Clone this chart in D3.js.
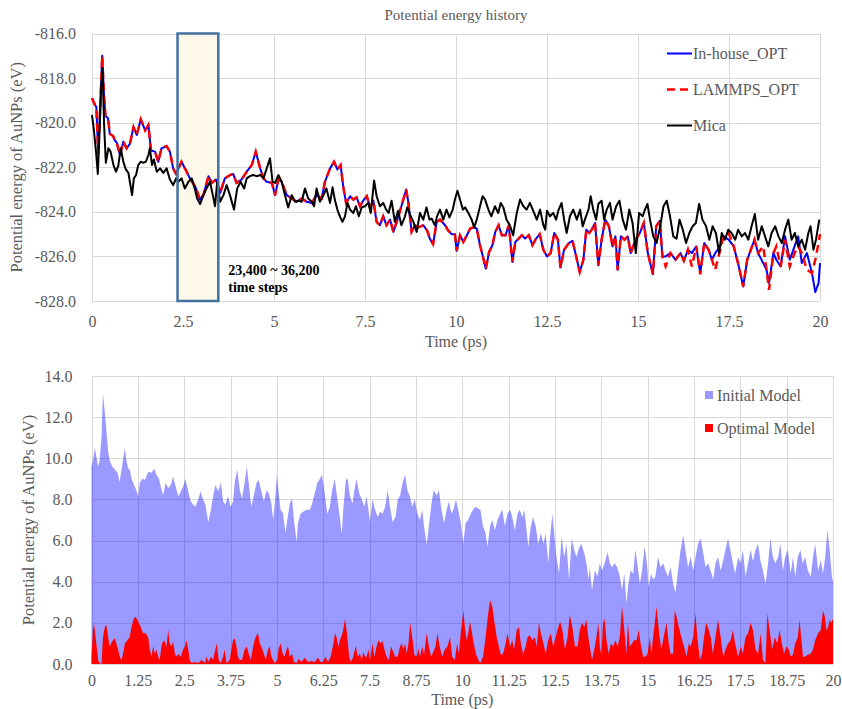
<!DOCTYPE html>
<html>
<head>
<meta charset="utf-8">
<script src="https://cdn.jsdelivr.net/npm/d3@7"></script>
<style>
  body { margin: 0; background: #fff; }
  svg { display: block; }
  text { font-family: "Liberation Serif", "Times New Roman", serif; }
</style>
</head>
<body>
<svg id="chart" width="842" height="709"></svg>
<script>
// ---- Potential energy history: [time (ps), energy (eV)] ----
const inHouseOpt = [[0,-818.9],[0.08,-819.2],[0.12,-819.3],[0.17,-821.4],[0.22,-819.5],[0.28,-817.0],[0.33,-818.8],[0.37,-819.7],[0.44,-819.8],[0.49,-820.5],[0.58,-820.6],[0.63,-820.8],[0.68,-820.9],[0.77,-821.45],[0.86,-820.85],[0.95,-821.15],[1.04,-820.95],[1.14,-820.2],[1.23,-820.55],[1.34,-819.85],[1.46,-820.35],[1.55,-820.1],[1.62,-821.25],[1.73,-821.3],[1.82,-821.75],[1.91,-821.15],[2.05,-821.05],[2.14,-821.3],[2.23,-822.05],[2.31,-822.3],[2.46,-821.75],[2.6,-822.2],[2.69,-822.5],[2.83,-822.85],[2.97,-823.45],[3.06,-823.25],[3.2,-822.4],[3.29,-822.7],[3.41,-822.55],[3.52,-823.15],[3.65,-822.5],[3.79,-822.35],[3.88,-822.3],[3.97,-822.7],[4.11,-822.55],[4.25,-822.2],[4.39,-821.9],[4.5,-821.3],[4.62,-822.05],[4.71,-822.5],[4.8,-822.65],[4.94,-822.7],[5.03,-823.25],[5.12,-822.55],[5.21,-822.65],[5.35,-823.25],[5.49,-823.4],[5.62,-823.55],[5.76,-823.4],[5.9,-823.55],[6.04,-823.6],[6.17,-823.25],[6.31,-823.4],[6.4,-822.65],[6.54,-822.05],[6.65,-821.75],[6.74,-822.1],[6.83,-821.9],[6.9,-822.85],[6.98,-823.6],[7.09,-823.3],[7.18,-823.45],[7.27,-823.35],[7.36,-823.75],[7.45,-823.5],[7.55,-823.3],[7.64,-823.8],[7.73,-823.5],[7.82,-824.45],[7.91,-824.6],[8.0,-824.2],[8.09,-824.6],[8.19,-824.35],[8.28,-824.9],[8.37,-824.45],[8.5,-823.75],[8.63,-823.0],[8.69,-823.55],[8.78,-824.9],[8.87,-824.6],[8.97,-824.7],[9.1,-824.6],[9.21,-824.85],[9.28,-825.2],[9.37,-825.45],[9.47,-824.45],[9.56,-824.35],[9.7,-824.6],[9.79,-824.85],[9.88,-825.0],[9.97,-825.0],[10.02,-825.75],[10.11,-825.05],[10.2,-825.35],[10.3,-825.05],[10.39,-824.75],[10.48,-824.7],[10.57,-824.75],[10.66,-825.5],[10.73,-825.95],[10.82,-826.55],[10.91,-825.8],[11.0,-825.5],[11.08,-824.9],[11.17,-824.6],[11.26,-825.05],[11.36,-825.05],[11.45,-824.6],[11.55,-826.25],[11.63,-825.35],[11.72,-825.2],[11.81,-825.05],[11.9,-825.2],[12.0,-825.05],[12.1,-825.5],[12.2,-825.2],[12.3,-825.0],[12.4,-825.7],[12.5,-826.0],[12.6,-825.85],[12.7,-824.95],[12.8,-825.25],[12.87,-826.5],[12.97,-825.7],[13.1,-825.4],[13.2,-825.3],[13.28,-825.85],[13.4,-826.7],[13.5,-826.15],[13.58,-824.8],[13.66,-824.95],[13.73,-824.8],[13.82,-824.5],[13.91,-826.4],[14.0,-825.25],[14.1,-824.35],[14.2,-824.65],[14.3,-825.55],[14.38,-825.1],[14.44,-826.6],[14.53,-825.1],[14.63,-825.25],[14.72,-825.1],[14.8,-825.85],[14.93,-825.25],[15.05,-824.95],[15.16,-824.5],[15.27,-825.85],[15.41,-826.8],[15.5,-824.65],[15.6,-824.4],[15.67,-826.0],[15.76,-826.0],[15.89,-825.85],[16.03,-826.15],[16.17,-825.85],[16.26,-826.2],[16.37,-825.7],[16.48,-825.85],[16.6,-825.55],[16.71,-826.75],[16.82,-825.4],[16.94,-825.7],[17.03,-826.15],[17.12,-825.85],[17.26,-825.55],[17.35,-825.1],[17.49,-825.25],[17.63,-825.55],[17.77,-826.45],[17.89,-827.35],[18.0,-826.15],[18.1,-825.7],[18.2,-825.25],[18.3,-825.85],[18.44,-826.3],[18.53,-826.6],[18.6,-827.2],[18.72,-825.85],[18.8,-826.15],[18.92,-826.45],[19.04,-825.1],[19.17,-826.15],[19.3,-825.55],[19.4,-825.1],[19.5,-826.3],[19.64,-825.85],[19.78,-826.75],[19.87,-827.6],[19.96,-827.2],[20,-826.3]];

const lammpsOpt = [[0,-818.9],[0.08,-819.2],[0.12,-819.3],[0.17,-821.4],[0.22,-819.5],[0.28,-817.0],[0.33,-818.8],[0.37,-819.7],[0.44,-819.8],[0.49,-820.5],[0.58,-820.6],[0.63,-820.8],[0.68,-820.9],[0.77,-821.45],[0.86,-820.85],[0.95,-821.15],[1.04,-820.95],[1.14,-820.2],[1.23,-820.55],[1.34,-819.85],[1.46,-820.35],[1.55,-820.1],[1.62,-821.25],[1.73,-821.3],[1.82,-821.75],[1.91,-821.15],[2.05,-821.05],[2.14,-821.3],[2.23,-822.05],[2.31,-822.3],[2.46,-821.75],[2.6,-822.2],[2.69,-822.5],[2.83,-822.85],[2.97,-823.45],[3.06,-823.25],[3.2,-822.4],[3.29,-822.7],[3.41,-822.55],[3.52,-823.15],[3.65,-822.5],[3.79,-822.35],[3.88,-822.3],[3.97,-822.7],[4.11,-822.55],[4.25,-822.2],[4.39,-821.9],[4.5,-821.3],[4.62,-822.05],[4.71,-822.5],[4.8,-822.65],[4.94,-822.7],[5.03,-823.25],[5.12,-822.55],[5.21,-822.65],[5.35,-823.25],[5.49,-823.4],[5.62,-823.55],[5.76,-823.4],[5.9,-823.55],[6.04,-823.6],[6.17,-823.25],[6.31,-823.4],[6.4,-822.65],[6.54,-822.05],[6.65,-821.75],[6.74,-822.1],[6.83,-821.9],[6.9,-822.85],[6.98,-823.6],[7.09,-823.3],[7.18,-823.45],[7.27,-823.35],[7.36,-823.75],[7.45,-823.5],[7.55,-823.3],[7.64,-823.8],[7.73,-823.5],[7.82,-824.45],[7.91,-824.6],[8.0,-824.2],[8.09,-824.6],[8.19,-824.35],[8.28,-824.9],[8.37,-824.45],[8.5,-823.75],[8.63,-823.0],[8.69,-823.55],[8.78,-824.9],[8.87,-824.6],[8.97,-824.7],[9.1,-824.6],[9.21,-824.85],[9.28,-825.2],[9.37,-825.45],[9.47,-824.45],[9.56,-824.35],[9.7,-824.6],[9.79,-824.85],[9.88,-825.0],[9.97,-825.0],[10.02,-825.75],[10.11,-825.05],[10.2,-825.35],[10.3,-825.05],[10.39,-824.75],[10.48,-824.7],[10.57,-824.75],[10.66,-825.5],[10.73,-825.95],[10.82,-826.55],[10.91,-825.8],[11.0,-825.5],[11.08,-824.9],[11.17,-824.6],[11.26,-825.05],[11.36,-825.05],[11.45,-824.6],[11.55,-826.25],[11.63,-825.35],[11.72,-825.2],[11.81,-825.05],[11.9,-825.2],[12.0,-825.05],[12.1,-825.5],[12.2,-825.2],[12.3,-825.0],[12.4,-825.7],[12.5,-826.0],[12.6,-825.85],[12.7,-824.95],[12.8,-825.25],[12.87,-826.5],[12.97,-825.7],[13.1,-825.4],[13.2,-825.3],[13.28,-825.85],[13.4,-826.7],[13.5,-826.15],[13.58,-824.8],[13.66,-824.95],[13.73,-824.8],[13.82,-824.5],[13.91,-826.4],[14.0,-825.25],[14.1,-824.35],[14.2,-824.65],[14.3,-825.55],[14.38,-825.1],[14.44,-826.6],[14.53,-825.1],[14.63,-825.25],[14.72,-825.1],[14.8,-825.85],[14.93,-825.25],[15.05,-824.95],[15.16,-824.5],[15.27,-825.85],[15.41,-826.8],[15.5,-824.65],[15.6,-824.4],[15.67,-826.0],[15.76,-826.45],[15.89,-825.85],[16.03,-826.15],[16.17,-825.85],[16.26,-826.2],[16.37,-825.7],[16.48,-826.45],[16.6,-825.55],[16.71,-826.8],[16.82,-825.4],[16.94,-825.7],[17.03,-826.15],[17.12,-826.6],[17.26,-825.7],[17.35,-825.1],[17.49,-824.95],[17.63,-825.55],[17.77,-826.45],[17.89,-827.35],[18.0,-826.15],[18.1,-825.7],[18.2,-825.25],[18.3,-825.85],[18.44,-825.55],[18.53,-826.6],[18.6,-827.5],[18.72,-825.85],[18.8,-825.55],[18.92,-826.45],[19.04,-825.25],[19.17,-826.45],[19.3,-825.85],[19.4,-825.55],[19.5,-825.85],[19.64,-826.6],[19.78,-826.75],[19.87,-826.15],[19.96,-825.4],[20,-825.0]];

const mica = [[0,-819.65],[0.05,-820.3],[0.11,-821.3],[0.16,-822.3],[0.2,-820.7],[0.25,-818.5],[0.29,-817.55],[0.33,-820.0],[0.38,-821.8],[0.45,-821.15],[0.51,-821.3],[0.59,-821.9],[0.66,-822.2],[0.72,-821.95],[0.79,-821.15],[0.86,-821.75],[0.93,-822.1],[1.0,-822.25],[1.04,-822.65],[1.1,-823.25],[1.15,-822.5],[1.21,-822.35],[1.27,-821.9],[1.34,-821.75],[1.41,-821.8],[1.48,-821.75],[1.55,-821.45],[1.59,-821.15],[1.65,-821.9],[1.7,-821.65],[1.78,-822.2],[1.87,-822.05],[1.96,-822.25],[2.05,-822.05],[2.14,-822.55],[2.23,-822.8],[2.31,-822.5],[2.37,-822.65],[2.46,-822.5],[2.55,-822.95],[2.65,-822.65],[2.74,-822.5],[2.83,-823.0],[2.89,-823.4],[2.97,-823.65],[3.06,-823.25],[3.15,-822.95],[3.24,-822.65],[3.32,-823.25],[3.38,-823.75],[3.44,-822.65],[3.52,-823.55],[3.61,-823.25],[3.7,-822.8],[3.79,-823.25],[3.9,-823.9],[3.99,-822.95],[4.08,-822.65],[4.18,-822.95],[4.25,-822.5],[4.34,-822.4],[4.43,-822.35],[4.52,-822.4],[4.63,-822.35],[4.71,-822.5],[4.8,-822.05],[4.89,-821.6],[4.96,-822.65],[5.03,-822.7],[5.12,-822.35],[5.21,-822.65],[5.3,-823.25],[5.39,-823.8],[5.49,-823.25],[5.58,-823.55],[5.67,-823.5],[5.76,-823.55],[5.85,-822.95],[5.94,-823.4],[6.04,-823.55],[6.1,-823.75],[6.17,-822.95],[6.26,-823.55],[6.36,-823.25],[6.44,-822.95],[6.54,-823.6],[6.61,-822.9],[6.67,-823.45],[6.74,-823.9],[6.81,-824.2],[6.88,-824.45],[6.95,-824.2],[7.02,-823.6],[7.09,-823.9],[7.18,-824.05],[7.25,-823.75],[7.33,-824.2],[7.41,-823.8],[7.5,-823.75],[7.59,-823.6],[7.66,-824.05],[7.75,-822.6],[7.82,-823.3],[7.91,-823.75],[8.0,-823.6],[8.08,-823.9],[8.15,-824.05],[8.23,-823.5],[8.32,-824.45],[8.41,-823.95],[8.5,-824.6],[8.6,-824.2],[8.66,-823.8],[8.73,-824.1],[8.83,-824.45],[8.92,-824.9],[9.01,-824.05],[9.1,-824.35],[9.19,-823.8],[9.27,-824.35],[9.33,-824.3],[9.42,-824.6],[9.48,-824.2],[9.56,-823.9],[9.65,-824.35],[9.74,-823.9],[9.82,-824.25],[9.91,-823.9],[9.97,-823.45],[10.04,-823.05],[10.11,-823.45],[10.19,-823.9],[10.25,-823.8],[10.34,-824.05],[10.43,-824.35],[10.5,-824.7],[10.57,-824.35],[10.66,-823.75],[10.73,-823.3],[10.8,-823.45],[10.89,-823.9],[10.97,-824.2],[11.07,-823.75],[11.16,-824.05],[11.23,-823.6],[11.3,-823.8],[11.39,-824.35],[11.48,-824.6],[11.57,-825.05],[11.67,-824.05],[11.76,-823.45],[11.85,-823.75],[11.94,-823.9],[12.03,-823.6],[12.12,-823.95],[12.22,-824.35],[12.31,-823.9],[12.4,-824.6],[12.45,-824.8],[12.5,-823.95],[12.58,-824.2],[12.67,-824.05],[12.75,-824.35],[12.81,-823.95],[12.9,-823.6],[12.97,-824.35],[13.04,-824.95],[13.13,-824.2],[13.22,-823.9],[13.32,-824.35],[13.41,-823.9],[13.48,-824.65],[13.54,-824.35],[13.64,-823.9],[13.7,-823.3],[13.77,-823.9],[13.85,-824.35],[13.91,-823.65],[14.0,-823.5],[14.07,-824.35],[14.14,-823.9],[14.23,-823.6],[14.3,-824.35],[14.4,-823.75],[14.49,-823.5],[14.58,-824.35],[14.67,-824.8],[14.76,-823.9],[14.85,-824.5],[14.94,-825.85],[15.03,-824.05],[15.13,-824.2],[15.19,-823.9],[15.26,-823.65],[15.33,-824.35],[15.42,-825.1],[15.51,-825.4],[15.61,-824.65],[15.7,-823.75],[15.79,-823.5],[15.88,-824.2],[15.97,-825.1],[16.06,-825.2],[16.14,-824.35],[16.23,-824.8],[16.32,-825.4],[16.41,-824.95],[16.5,-824.65],[16.59,-824.5],[16.68,-823.65],[16.77,-824.35],[16.87,-824.65],[16.96,-825.25],[17.05,-824.65],[17.14,-824.95],[17.23,-825.85],[17.3,-824.95],[17.39,-825.25],[17.48,-824.8],[17.57,-824.95],[17.67,-825.25],[17.75,-824.8],[17.85,-825.1],[17.94,-824.95],[18.03,-825.25],[18.12,-824.65],[18.21,-824.1],[18.3,-825.25],[18.4,-824.65],[18.49,-825.1],[18.58,-825.55],[18.67,-824.95],[18.77,-824.65],[18.86,-825.1],[18.95,-825.4],[19.04,-824.8],[19.13,-824.35],[19.22,-825.25],[19.31,-824.95],[19.4,-825.55],[19.5,-825.25],[19.59,-825.7],[19.68,-824.95],[19.74,-824.65],[19.82,-825.7],[19.89,-825.25],[19.98,-824.35]];

// ---- Potential energy of AuNPs per model: [time (ps), energy (eV)] ----
const initialModel = [[0,9.6],[0.05,10.0],[0.09,10.5],[0.13,10.1],[0.18,9.6],[0.22,9.9],[0.27,11.05],[0.31,13.15],[0.36,12.2],[0.4,11.4],[0.45,10.3],[0.49,9.9],[0.56,9.6],[0.63,9.45],[0.7,9.3],[0.76,8.85],[0.81,9.45],[0.85,9.9],[0.9,10.5],[0.94,9.9],[0.99,9.5],[1.03,9.45],[1.08,9.0],[1.15,8.7],[1.21,8.45],[1.26,8.15],[1.3,8.8],[1.37,9.0],[1.44,8.95],[1.53,9.35],[1.62,9.3],[1.69,9.5],[1.75,9.2],[1.82,9.0],[1.87,8.6],[1.93,8.2],[2.0,8.8],[2.07,8.55],[2.14,8.7],[2.2,9.1],[2.26,8.7],[2.34,8.15],[2.41,8.4],[2.47,8.6],[2.53,9.0],[2.61,8.4],[2.68,7.9],[2.74,7.75],[2.8,7.65],[2.88,8.0],[2.94,8.4],[3.01,8.0],[3.07,7.75],[3.15,6.9],[3.22,7.5],[3.28,8.15],[3.34,8.7],[3.42,8.4],[3.49,8.8],[3.55,7.9],[3.61,7.75],[3.68,8.15],[3.75,7.65],[3.82,7.9],[3.86,8.8],[3.93,9.45],[4.0,8.45],[4.06,8.05],[4.13,8.8],[4.19,9.6],[4.24,8.8],[4.31,7.65],[4.38,8.2],[4.45,8.8],[4.51,8.95],[4.58,8.4],[4.65,7.9],[4.72,8.45],[4.78,8.3],[4.85,7.8],[4.9,7.0],[4.96,8.15],[5.0,9.2],[5.05,8.3],[5.1,7.5],[5.17,7.3],[5.23,6.35],[5.28,7.0],[5.35,7.8],[5.41,8.05],[5.46,7.0],[5.53,5.95],[5.57,6.85],[5.64,7.3],[5.71,7.4],[5.8,7.5],[5.89,7.5],[5.95,7.8],[6.02,8.3],[6.09,8.8],[6.16,9.0],[6.22,9.2],[6.29,8.3],[6.36,7.3],[6.43,7.65],[6.49,8.45],[6.56,9.0],[6.63,8.05],[6.7,7.1],[6.75,6.3],[6.79,7.5],[6.86,8.95],[6.91,9.0],[6.97,8.15],[7.04,7.8],[7.09,8.45],[7.15,9.0],[7.22,8.3],[7.29,8.0],[7.36,7.65],[7.42,8.15],[7.47,7.5],[7.51,6.9],[7.58,8.0],[7.65,7.5],[7.72,7.15],[7.78,7.4],[7.85,7.3],[7.92,7.65],[7.99,8.45],[8.05,7.65],[8.12,6.9],[8.2,7.15],[8.26,8.0],[8.32,8.15],[8.39,8.8],[8.46,9.2],[8.52,8.45],[8.59,8.15],[8.65,7.65],[8.72,8.0],[8.79,7.3],[8.86,7.0],[8.92,7.5],[8.97,6.7],[9.04,5.8],[9.1,6.7],[9.17,7.8],[9.23,8.45],[9.31,8.2],[9.37,8.45],[9.44,7.5],[9.51,6.85],[9.58,7.5],[9.64,7.9],[9.71,7.3],[9.77,7.55],[9.83,8.0],[9.89,7.5],[9.96,6.85],[10.03,5.85],[10.09,6.85],[10.16,7.0],[10.23,7.3],[10.29,7.5],[10.36,7.65],[10.43,7.55],[10.49,7.5],[10.56,6.7],[10.63,6.35],[10.68,5.7],[10.75,6.7],[10.81,7.0],[10.88,6.5],[10.95,7.0],[11.02,7.3],[11.08,7.5],[11.15,6.7],[11.22,7.3],[11.29,7.5],[11.35,7.15],[11.42,6.5],[11.49,7.3],[11.55,7.5],[11.62,7.15],[11.67,7.5],[11.73,6.6],[11.78,5.7],[11.85,6.7],[11.91,7.15],[11.98,6.7],[12.05,5.85],[12.12,6.35],[12.19,5.85],[12.25,6.35],[12.32,4.9],[12.37,6.2],[12.43,7.3],[12.48,6.35],[12.54,5.2],[12.61,4.4],[12.68,6.2],[12.75,5.2],[12.81,5.85],[12.88,4.1],[12.95,6.1],[13.02,5.55],[13.08,5.2],[13.14,5.6],[13.21,5.85],[13.29,5.4],[13.35,4.9],[13.41,4.1],[13.44,4.7],[13.5,3.6],[13.58,4.55],[13.65,4.25],[13.71,4.9],[13.77,4.55],[13.84,4.9],[13.92,5.45],[13.98,4.9],[14.04,4.7],[14.11,4.9],[14.18,4.7],[14.25,4.25],[14.31,3.6],[14.37,4.4],[14.43,2.95],[14.47,3.75],[14.54,4.55],[14.61,4.4],[14.67,5.55],[14.72,4.9],[14.79,3.9],[14.85,4.55],[14.92,5.7],[14.98,4.9],[15.03,3.75],[15.09,4.4],[15.15,4.1],[15.21,4.25],[15.28,5.2],[15.35,4.7],[15.42,4.9],[15.48,4.55],[15.55,4.25],[15.62,4.7],[15.69,3.9],[15.75,3.45],[15.82,4.55],[15.89,5.55],[15.96,6.25],[16.02,5.55],[16.09,4.7],[16.16,5.2],[16.23,4.55],[16.29,5.2],[16.36,5.85],[16.43,6.1],[16.5,5.4],[16.56,4.7],[16.63,4.9],[16.7,4.55],[16.77,4.1],[16.83,4.9],[16.9,5.2],[16.97,4.55],[17.04,5.05],[17.1,5.55],[17.17,6.1],[17.23,5.55],[17.3,4.9],[17.36,4.4],[17.44,5.2],[17.51,4.9],[17.57,5.55],[17.64,4.25],[17.71,4.9],[17.78,5.55],[17.84,5.0],[17.91,5.55],[17.98,5.85],[18.04,5.05],[18.11,4.55],[18.18,3.9],[18.25,4.9],[18.31,6.1],[18.38,5.2],[18.44,4.9],[18.52,5.2],[18.58,5.85],[18.65,4.55],[18.71,5.2],[18.78,5.55],[18.86,4.4],[18.92,5.2],[18.98,4.25],[19.05,5.2],[19.12,5.55],[19.18,4.9],[19.25,5.2],[19.32,4.55],[19.4,4.25],[19.46,5.2],[19.52,5.85],[19.6,4.55],[19.67,5.05],[19.73,4.4],[19.79,5.2],[19.85,6.5],[19.91,5.55],[19.97,4.25],[20,4.0]];

const optimalModel = [[0,0.35],[0.04,1.65],[0.07,1.95],[0.11,1.3],[0.14,0.85],[0.18,0.2],[0.22,0.05],[0.27,0],[0.31,1.3],[0.36,1.8],[0.4,1.9],[0.45,1.3],[0.49,0.85],[0.56,1.1],[0.63,1.25],[0.67,1.0],[0.72,0.7],[0.76,0.35],[0.81,0.2],[0.85,0.5],[0.9,1.0],[0.97,1.15],[1.03,1.3],[1.08,1.8],[1.14,2.2],[1.19,2.3],[1.26,2.05],[1.33,1.8],[1.39,1.5],[1.46,1.5],[1.53,1.3],[1.57,0.7],[1.62,0.35],[1.66,0.85],[1.71,0.5],[1.75,0.7],[1.8,0.35],[1.84,0.2],[1.9,1.0],[1.96,1.15],[2.02,0.85],[2.07,1.65],[2.11,1.0],[2.16,0.85],[2.2,1.1],[2.25,0.5],[2.29,0.35],[2.34,0.5],[2.41,0.35],[2.47,0.7],[2.52,0.85],[2.56,1.15],[2.61,0.7],[2.65,0.2],[2.7,0.05],[2.79,0.1],[2.88,0.05],[2.97,0.2],[3.06,0.05],[3.1,0.35],[3.15,0.1],[3.22,0.35],[3.28,0.2],[3.34,0.7],[3.38,1.0],[3.43,0.2],[3.49,0.05],[3.55,0.35],[3.59,0.7],[3.64,0.05],[3.73,0.2],[3.77,0.7],[3.82,1.15],[3.86,1.25],[3.91,0.85],[3.95,0.35],[4.0,0.2],[4.06,0.2],[4.13,0.7],[4.19,0.85],[4.24,0.5],[4.3,0.2],[4.36,0.85],[4.4,1.15],[4.45,1.4],[4.49,1.5],[4.54,1.0],[4.58,0.85],[4.65,0.5],[4.7,0.2],[4.76,0.7],[4.81,0.85],[4.85,0.35],[4.9,0.2],[4.94,0.05],[5.01,0.2],[5.05,0.75],[5.1,1.0],[5.16,0.5],[5.21,0.35],[5.26,0.7],[5.3,0.85],[5.35,0.35],[5.41,0.5],[5.46,0.1],[5.53,0.05],[5.59,0.25],[5.66,0.1],[5.75,0.3],[5.8,0.2],[5.84,0.1],[5.93,0.15],[6.02,0.1],[6.11,0.3],[6.18,0.1],[6.24,0.1],[6.31,0.35],[6.38,0.1],[6.45,0.35],[6.51,0.85],[6.57,1.5],[6.61,1.3],[6.66,0.85],[6.7,1.15],[6.77,1.5],[6.84,2.2],[6.89,1.5],[6.95,0.35],[7.0,0.1],[7.06,0.35],[7.13,0.9],[7.18,0.35],[7.24,0.5],[7.29,0.2],[7.33,0.6],[7.38,0.35],[7.42,0.35],[7.47,0.7],[7.51,0.2],[7.58,1.0],[7.63,0.35],[7.69,0.85],[7.74,1.15],[7.79,1.0],[7.85,1.1],[7.9,0.7],[7.96,0.35],[8.02,0.2],[8.08,0.85],[8.14,0.6],[8.19,0.35],[8.26,0.35],[8.32,0.85],[8.37,1.0],[8.41,0.7],[8.46,1.0],[8.5,0.5],[8.55,1.0],[8.6,2.0],[8.65,1.3],[8.71,0.45],[8.77,0.35],[8.82,0.75],[8.86,0.35],[8.92,0.85],[8.97,0.45],[9.04,1.5],[9.1,0.85],[9.16,0.35],[9.22,0.6],[9.28,0.85],[9.33,1.5],[9.39,0.85],[9.46,0.35],[9.53,0.7],[9.6,0.85],[9.67,1.3],[9.73,0.35],[9.8,0.2],[9.86,1.0],[9.91,0.5],[9.96,1.5],[10.03,2.6],[10.07,1.8],[10.12,1.15],[10.16,1.5],[10.21,2.05],[10.25,1.65],[10.31,1.0],[10.37,0.5],[10.43,0.2],[10.49,0.05],[10.56,0.35],[10.63,1.3],[10.68,2.15],[10.75,3.1],[10.81,2.8],[10.87,2.0],[10.93,1.3],[10.99,0.85],[11.04,0.45],[11.1,0.5],[11.17,1.0],[11.22,1.5],[11.29,0.85],[11.35,1.15],[11.4,0.7],[11.47,1.65],[11.53,1.8],[11.58,1.0],[11.64,0.5],[11.71,0.85],[11.76,1.3],[11.82,1.4],[11.89,1.15],[11.96,1.3],[12.01,0.85],[12.07,2.0],[12.12,1.5],[12.19,1.0],[12.25,0.5],[12.32,1.15],[12.39,1.5],[12.45,0.85],[12.52,1.3],[12.59,1.8],[12.64,2.05],[12.7,1.65],[12.77,0.7],[12.84,1.3],[12.9,2.4],[12.97,1.8],[13.04,0.85],[13.11,0.85],[13.17,1.65],[13.23,2.0],[13.29,1.8],[13.35,2.15],[13.4,1.3],[13.44,0.85],[13.5,0.2],[13.56,0.7],[13.62,1.3],[13.67,2.0],[13.71,0.85],[13.75,0.45],[13.8,2.0],[13.84,2.2],[13.89,1.15],[13.95,0.5],[14.01,1.0],[14.07,0.85],[14.13,1.15],[14.19,0.85],[14.25,1.3],[14.31,2.8],[14.37,1.65],[14.43,0.5],[14.47,2.0],[14.52,0.85],[14.58,1.0],[14.63,1.15],[14.7,1.15],[14.76,1.65],[14.81,1.0],[14.88,0.35],[14.94,0.35],[15.0,0.5],[15.06,1.3],[15.1,0.5],[15.18,1.8],[15.24,2.8],[15.31,1.5],[15.37,0.7],[15.43,1.3],[15.51,2.0],[15.57,1.0],[15.62,0.5],[15.69,0.5],[15.73,2.6],[15.78,2.3],[15.84,1.8],[15.91,1.3],[15.98,0.85],[16.05,0.35],[16.11,1.0],[16.16,0.85],[16.23,1.3],[16.29,2.45],[16.34,1.3],[16.41,0.2],[16.47,0.5],[16.52,1.3],[16.58,2.0],[16.65,1.65],[16.7,1.3],[16.76,0.5],[16.83,1.3],[16.9,2.15],[16.97,1.3],[17.04,0.35],[17.1,0.7],[17.17,1.0],[17.24,1.15],[17.3,1.65],[17.36,1.0],[17.44,0.35],[17.51,0.85],[17.57,0.5],[17.64,1.3],[17.71,1.5],[17.78,2.0],[17.84,1.65],[17.91,0.7],[17.98,0.5],[18.05,1.5],[18.11,0.2],[18.18,0.05],[18.23,2.45],[18.29,1.65],[18.36,0.7],[18.43,1.3],[18.5,1.0],[18.56,1.65],[18.62,1.0],[18.68,0.5],[18.74,0.85],[18.81,0.7],[18.86,0.35],[18.92,0.45],[18.98,1.0],[19.05,1.3],[19.1,2.15],[19.14,1.3],[19.19,0.35],[19.25,0.35],[19.32,0.45],[19.4,0.5],[19.46,0.7],[19.52,1.15],[19.6,1.5],[19.67,1.65],[19.73,2.6],[19.78,2.3],[19.82,1.65],[19.87,1.8],[19.91,2.15],[19.95,2.0],[20,2.2]];

// ---- Ticks, labels and the highlighted time window ----
const topXTicks = [0, 2.5, 5, 7.5, 10, 12.5, 15, 17.5, 20];
const topYTicks = [-816, -818, -820, -822, -824, -826, -828];
const bottomXTicks = [0, 1.25, 2.5, 3.75, 5, 6.25, 7.5, 8.75, 10, 11.25, 12.5, 13.75, 15, 16.25, 17.5, 18.75, 20];
const bottomYTicks = [0, 2, 4, 6, 8, 10, 12, 14];
const windowRange = [2.35, 3.47];
const windowLabel = ["23,400 ~ 36,200", "time steps"];
const topSeriesNames = ["In-house_OPT", "LAMMPS_OPT", "Mica"];
const bottomSeriesNames = ["Initial Model", "Optimal Model"];

const svg = d3.select("#chart");
const GRID = "#D9D9D9", LABEL = "#595959";

function styleGrid(g) {
  g.select(".domain").remove();
  g.selectAll("line").attr("stroke", GRID).attr("stroke-width", 1).attr("shape-rendering", "crispEdges");
}
function styleLabels(g) {
  g.select(".domain").remove();
  g.selectAll("line").remove();
  g.selectAll("text").attr("fill", LABEL).attr("font-size", 16)
    .attr("font-family", "'Liberation Serif','Times New Roman',serif");
}

// ================= Top panel =================
const tx = d3.scaleLinear().domain([0, 20]).range([92, 820]);
const ty = d3.scaleLinear().domain([-828, -816]).range([301, 33.5]);
const topW = tx.range()[1] - tx.range()[0];
const topH = ty.range()[0] - ty.range()[1];

svg.append("g").attr("transform", `translate(${tx.range()[0]},0)`)
  .call(d3.axisLeft(ty).tickValues(topYTicks).tickSize(-topW).tickFormat(""))
  .call(styleGrid);
svg.append("g").attr("transform", `translate(0,${ty.range()[0]})`)
  .call(d3.axisBottom(tx).tickValues(topXTicks).tickSize(-topH).tickFormat(""))
  .call(styleGrid);

// highlighted window (fill below the curves)
const winX0 = tx(windowRange[0]), winX1 = tx(windowRange[1]);
svg.append("rect")
  .attr("x", winX0).attr("y", ty(-816)).attr("width", winX1 - winX0).attr("height", ty(-828) - ty(-816))
  .attr("fill", "#FDF8EA");

const topLine = d3.line().x(d => tx(d[0])).y(d => ty(d[1]));
svg.append("path").datum(inHouseOpt).attr("d", topLine)
  .attr("fill", "none").attr("stroke", "#0000FF").attr("stroke-width", 2).attr("stroke-linejoin", "round");
svg.append("path").datum(lammpsOpt).attr("d", topLine)
  .attr("fill", "none").attr("stroke", "#FF0000").attr("stroke-width", 2.5).attr("stroke-dasharray", "8,5");
svg.append("path").datum(mica).attr("d", topLine)
  .attr("fill", "none").attr("stroke", "#000000").attr("stroke-width", 2).attr("stroke-linejoin", "round");

// window outline over the curves
svg.append("rect")
  .attr("x", winX0).attr("y", ty(-816)).attr("width", winX1 - winX0).attr("height", ty(-828) - ty(-816))
  .attr("fill", "none").attr("stroke", "#41719C").attr("stroke-width", 2.5);

svg.append("g").attr("font-weight", "bold").attr("font-size", 14).attr("fill", "#000")
  .selectAll("text").data(windowLabel).join("text")
  .attr("x", winX1 + 10).attr("y", (d, i) => 275 + i * 17).text(d => d);

svg.append("g").attr("transform", `translate(${tx.range()[0]},0)`)
  .call(d3.axisLeft(ty).tickValues(topYTicks).tickSize(0).tickPadding(16).tickFormat(d => d.toFixed(1)))
  .call(styleLabels);
svg.append("g").attr("transform", `translate(0,${ty.range()[0]})`)
  .call(d3.axisBottom(tx).tickValues(topXTicks).tickSize(0).tickPadding(15).tickFormat(d => String(d)))
  .call(styleLabels);

svg.append("text").attr("x", (tx.range()[0] + tx.range()[1]) / 2).attr("y", 20)
  .attr("text-anchor", "middle").attr("font-size", 15).attr("fill", LABEL).text("Potential energy history");
svg.append("text").attr("x", (tx.range()[0] + tx.range()[1]) / 2).attr("y", 347)
  .attr("text-anchor", "middle").attr("font-size", 16).attr("fill", LABEL).text("Time (ps)");
svg.append("text").attr("transform", `translate(22,${(ty.range()[0] + ty.range()[1]) / 2}) rotate(-90)`)
  .attr("text-anchor", "middle").attr("font-size", 16.5).attr("fill", LABEL).text("Potential energy of AuNPs (eV)");

// legend
const topLegendStyle = [
  { color: "#0000FF", width: 2, dash: null },
  { color: "#FF0000", width: 2.5, dash: "8,5" },
  { color: "#000000", width: 2, dash: null }
];
const topLegend = svg.append("g");
topSeriesNames.forEach((name, i) => {
  const y = 53.5 + i * 36;
  const s = topLegendStyle[i];
  topLegend.append("line").attr("x1", 667).attr("x2", 692).attr("y1", y).attr("y2", y)
    .attr("stroke", s.color).attr("stroke-width", s.width).attr("stroke-dasharray", s.dash);
  topLegend.append("text").attr("x", 693).attr("y", y).attr("dy", "0.35em")
    .attr("font-size", 16).attr("fill", LABEL).text(name);
});

// ================= Bottom panel =================
const bx = d3.scaleLinear().domain([0, 20]).range([91.5, 833]);
const by = d3.scaleLinear().domain([0, 14]).range([664, 376]);
const botW = bx.range()[1] - bx.range()[0];
const botH = by.range()[0] - by.range()[1];

svg.append("g").attr("transform", `translate(${bx.range()[0]},0)`)
  .call(d3.axisLeft(by).tickValues(bottomYTicks).tickSize(-botW).tickFormat(""))
  .call(styleGrid);
svg.append("g").attr("transform", `translate(0,${by.range()[0]})`)
  .call(d3.axisBottom(bx).tickValues(bottomXTicks).tickSize(-botH).tickFormat(""))
  .call(styleGrid);

const botArea = d3.area().x(d => bx(d[0])).y0(by(0)).y1(d => by(d[1]));
svg.append("path").datum(initialModel).attr("d", botArea)
  .attr("fill", "#0000FF").attr("fill-opacity", 0.4);
svg.append("path").datum(optimalModel).attr("d", botArea)
  .attr("fill", "#FF0000");

svg.append("g").attr("transform", `translate(${bx.range()[0]},0)`)
  .call(d3.axisLeft(by).tickValues(bottomYTicks).tickSize(0).tickPadding(19).tickFormat(d => d.toFixed(1)))
  .call(styleLabels);
svg.append("g").attr("transform", `translate(0,${by.range()[0]})`)
  .call(d3.axisBottom(bx).tickValues(bottomXTicks).tickSize(0).tickPadding(11).tickFormat(d => String(d)))
  .call(styleLabels);

svg.append("text").attr("x", (bx.range()[0] + bx.range()[1]) / 2).attr("y", 705)
  .attr("text-anchor", "middle").attr("font-size", 16).attr("fill", LABEL).text("Time (ps)");
svg.append("text").attr("transform", `translate(34,${(by.range()[0] + by.range()[1]) / 2}) rotate(-90)`)
  .attr("text-anchor", "middle").attr("font-size", 16.5).attr("fill", LABEL).text("Potential energy of AuNPs (eV)");

const bottomLegendFill = [{ c: "#0000FF", o: 0.4 }, { c: "#FF0000", o: 1 }];
const botLegend = svg.append("g");
bottomSeriesNames.forEach((name, i) => {
  const y = 395 + i * 33;
  botLegend.append("rect").attr("x", 705).attr("y", y - 4).attr("width", 8).attr("height", 8)
    .attr("fill", bottomLegendFill[i].c).attr("fill-opacity", bottomLegendFill[i].o);
  botLegend.append("text").attr("x", 717).attr("y", y).attr("dy", "0.35em")
    .attr("font-size", 16).attr("fill", LABEL).text(name);
});
</script>
</body>
</html>
